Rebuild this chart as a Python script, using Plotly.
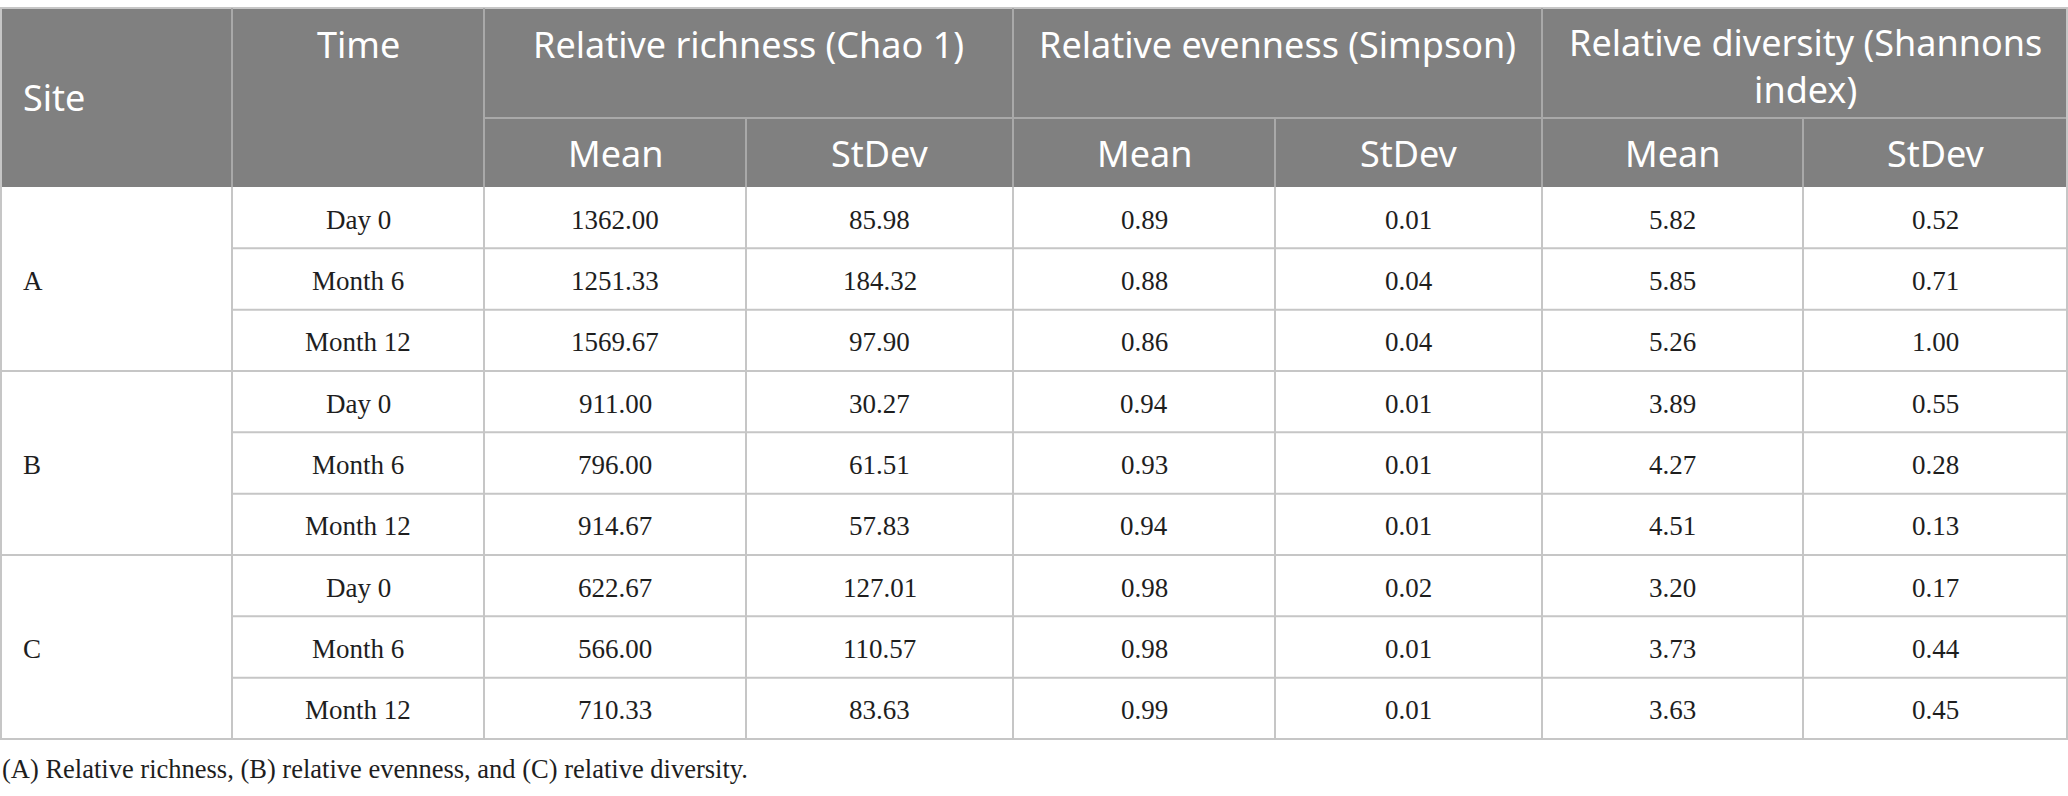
import plotly.graph_objects as go

# table data
sites = ["A", "B", "C"]
times = ["Day 0", "Month 6", "Month 12"]
richness_mean = [1362.00, 1251.33, 1569.67, 911.00, 796.00, 914.67, 622.67, 566.00, 710.33]
richness_sd = [85.98, 184.32, 97.90, 30.27, 61.51, 57.83, 127.01, 110.57, 83.63]
evenness_mean = [0.89, 0.88, 0.86, 0.94, 0.93, 0.94, 0.98, 0.98, 0.99]
evenness_sd = [0.01, 0.04, 0.04, 0.01, 0.01, 0.01, 0.02, 0.01, 0.01]
diversity_mean = [5.82, 5.85, 5.26, 3.89, 4.27, 4.51, 3.20, 3.73, 3.63]
diversity_sd = [0.52, 0.71, 1.00, 0.55, 0.28, 0.13, 0.17, 0.44, 0.45]

group_headers = ["Relative richness (Chao 1)", "Relative evenness (Simpson)",
                 "Relative diversity (Shannons<br>index)"]
sub_headers = ["Mean", "StDev"]
caption = "(A) Relative richness, (B) relative evenness, and (C) relative diversity."

W, H = 2068, 796
col_edges = [0, 232, 484, 746, 1013, 1275, 1542, 1803, 2068]
y_top, y_mid, y_head = 8, 118, 187
row_h = (739 - y_head) / 9

HEAD_FILL = "#808080"
HEAD_LINE = "#a9a9a9"
BODY_LINE = "#c6c6c6"
INK = "#1e1e1e"
sans = "Noto Sans"
serif = "Liberation Serif"

fig = go.Figure()
shapes = []
ann = []


def line(x0, y0, x1, y1, color, w=2):
    shapes.append(dict(type="line", x0=x0, y0=y0, x1=x1, y1=y1,
                       line=dict(color=color, width=w), layer="above"))


def text(x, y, s, font, size, color, xanchor="center"):
    ann.append(dict(x=x, y=y, text=s, showarrow=False, xanchor=xanchor, yanchor="middle",
                    font=dict(family=font, size=size, color=color)))


# header background
shapes.append(dict(type="rect", x0=0, y0=y_top, x1=W, y1=y_head,
                   fillcolor=HEAD_FILL, line=dict(width=0), layer="below"))
line(0, y_top, W, y_top, BODY_LINE)
line(col_edges[2], y_mid, W, y_mid, HEAD_LINE)
for i, x in enumerate(col_edges[1:-1], start=1):
    if i in (1, 2, 4, 6):
        line(x, y_top, x, y_head, HEAD_LINE)
    else:
        line(x, y_mid, x, y_head, HEAD_LINE)

text(21, (y_top + y_head) / 2, "Site", sans, 36, "white", "left")
text((col_edges[1] + col_edges[2]) / 2, 44, "Time", sans, 36, "white")
for g, label in enumerate(group_headers):
    cx = (col_edges[2 + 2 * g] + col_edges[4 + 2 * g]) / 2
    yy = 44 if "<br>" not in label else 66
    text(cx, yy, label, sans, 36, "white")
    for k, sub in enumerate(sub_headers):
        c = 2 + 2 * g + k
        text((col_edges[c] + col_edges[c + 1]) / 2, (y_mid + y_head) / 2 + 1, sub, sans, 36, "white")

# body
columns = [richness_mean, richness_sd, evenness_mean, evenness_sd, diversity_mean, diversity_sd]
n_rows = len(sites) * len(times)
for r in range(n_rows):
    y0 = y_head + r * row_h
    y1 = y0 + row_h
    cy = (y0 + y1) / 2 + 2
    text((col_edges[1] + col_edges[2]) / 2, cy, times[r % len(times)], serif, 27, INK)
    for c, vals in enumerate(columns):
        text((col_edges[c + 2] + col_edges[c + 3]) / 2, cy, f"{vals[r]:.2f}", serif, 27, INK)
    if (r + 1) % len(times) == 0:
        line(0, y1, W, y1, BODY_LINE)
    else:
        line(col_edges[1], y1, W, y1, BODY_LINE)

for s, site in enumerate(sites):
    cy = y_head + (s * len(times) + 1.5) * row_h + 2
    text(21, cy, site, serif, 27, INK, "left")

y_bot = y_head + n_rows * row_h
for x in col_edges:
    xx = min(max(x, 1), W - 1)
    line(xx, y_head, xx, y_bot, BODY_LINE)
line(1, y_top, 1, y_head, BODY_LINE)
line(W - 1, y_top, W - 1, y_head, BODY_LINE)

text(0, 769, caption, serif, 26.5, INK, "left")

fig.update_layout(
    width=W, height=H,
    margin=dict(l=0, r=0, t=0, b=0),
    paper_bgcolor="white", plot_bgcolor="white",
    xaxis=dict(range=[0, W], visible=False, fixedrange=True),
    yaxis=dict(range=[H, 0], visible=False, fixedrange=True),
    shapes=shapes, annotations=ann, showlegend=False,
)

# drop the browser's default body margin so the figure sits at the page corner
fig.write_html("out.html", config={"displayModeBar": False},
               post_script="document.body.style.margin='0';")
